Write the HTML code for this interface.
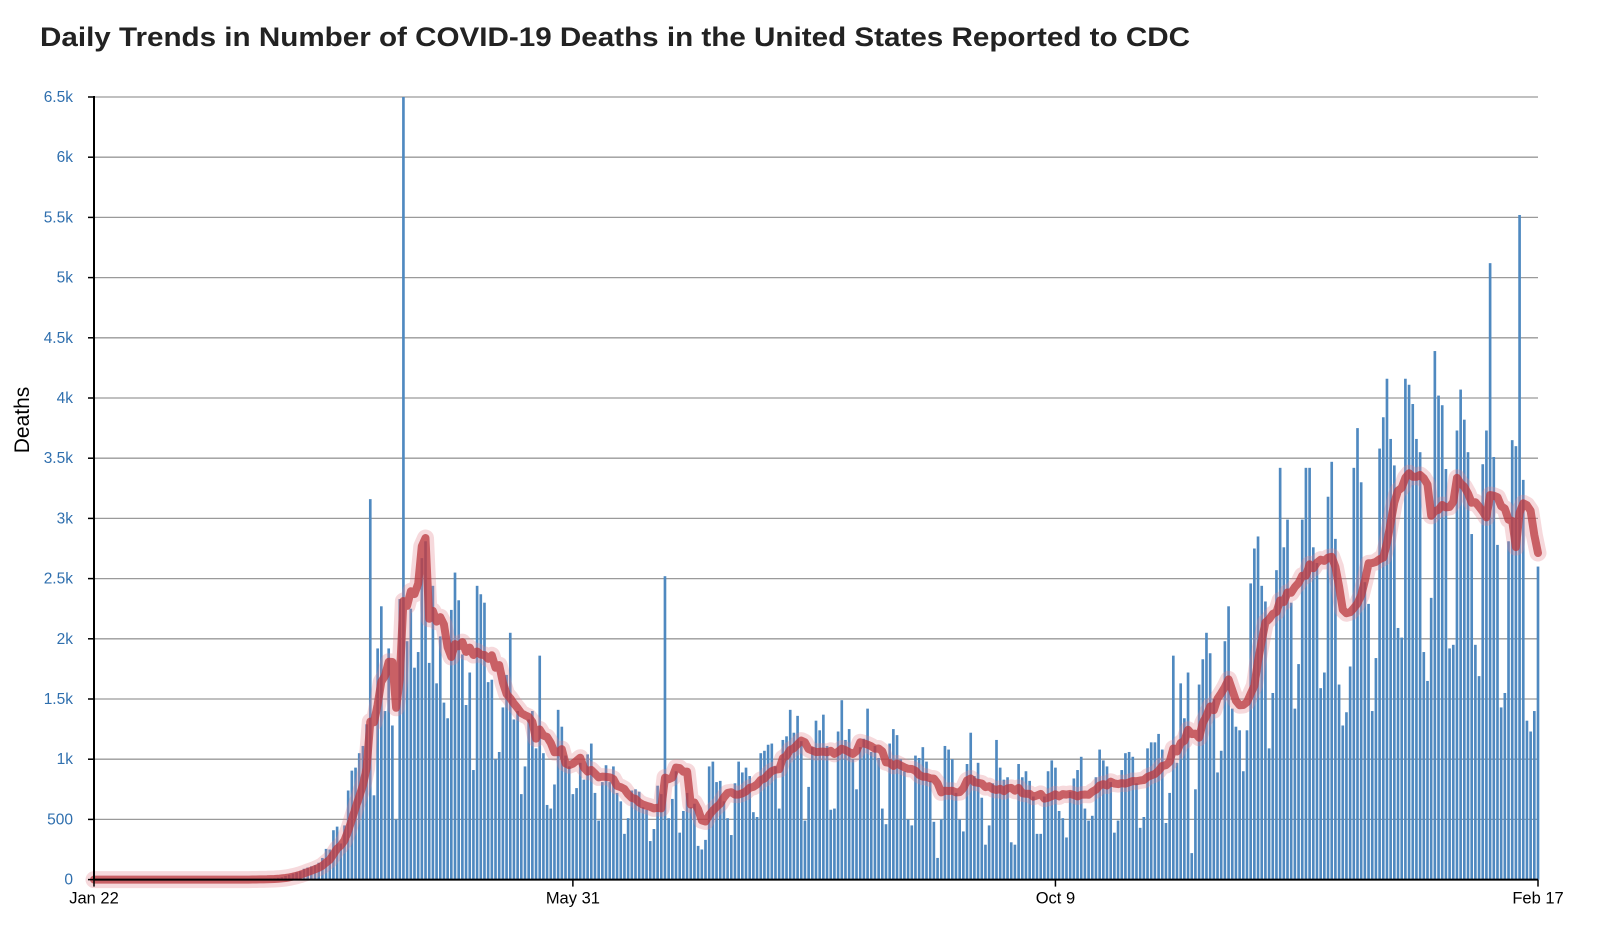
<!DOCTYPE html>
<html>
<head>
<meta charset="utf-8">
<style>
  html,body{margin:0;padding:0;background:#fff;}
  body{width:1600px;height:949px;overflow:hidden;font-family:"Liberation Sans",sans-serif;}
  svg{display:block;}
</style>
</head>
<body>
<svg id="chart" width="1600" height="949" viewBox="0 0 1600 949" xmlns="http://www.w3.org/2000/svg">
  <text x="40" y="46" font-family="Liberation Sans, sans-serif" font-weight="bold" font-size="27" fill="#222" textLength="1150" lengthAdjust="spacingAndGlyphs">Daily Trends in Number of COVID-19 Deaths in the United States Reported to CDC</text>
  <g id="grid"></g>
  <g id="bars"></g>
  <g id="line"></g>
  <g id="axes"></g>
  <text transform="translate(29,420) rotate(-90)" text-anchor="middle" font-family="Liberation Sans, sans-serif" font-size="21" fill="#000">Deaths</text>
</svg>
<script>
const pre = [0,0,0,0,0,0,0,0,0,0,0,0,0,0,0,0,0,0,0,0,0,0,0,0,0,0,0,0,0,0,0,0,0,0,0,0,0,0,0,0,
  0,1,1,2,2,3,5,6,8,10,15,20,30,40,50,60,70,90,100,110,120];
const spring = [140,180,255,250,410,440,300,450,740,905,930,1050,1110,1290,3160,700,1920,2270,1400,1920,1280,500,2330,6500,1980,2250,1760,1890,2670,2810,1800,2440,1630,2020,1470,1340,2240,2550,2320,1870,1450,1720,910,2440];
const lateSpring = [2370,2300,1640,1660,1000,1060,1430,1700,2050,1330,1400,710,940,1330,1400,1090,1860,1050,620,590,
  790,1410,1270,1030,940,710,760,970,830,1040,1130,720,490,810,950,810,940,720,650,380,
  510,740,750,730,600,580,320,420,780,710,2520,510,670,900,390,570,720,600,630,280,
  250,330,940,980,810,820,650,510,370];
const summer = [800,980,890,930,860,560,520,1050,1070,1120,1130,940,590,1160,1190,1410,1220,1360,1150,490,
  770,1100,1320,1240,1370,1110,580,590,1230,1490,1160,1250,1000,750,1100,1170,1420,1060,1110,1010,
  590,460,1130,1250,1200,1000,900,500,450,1030,1010,1100,980,820,480,180,500,1110,1080,1000,720,500,400];
const fall = [960,1220,860,970,680,290,450,800,1160,930,830,850,310,290,960,850,900,820,690,380,
  380,690,900,990,930,570,510,350,730,840,910,1020,590,490,530,850,1080,990,940,810,
  390,490,910,1050,1060,1020,800,430,520,1090,1140,1140,1210,1080,470,720,1860,970,1630,1340,
  1720,220,750,1620,1830,2050,1880,1500,890];
const lateFall = [1070,1980,2270,1420,1270,1240,900,1240,2460,2750,2850,2440,2310,1090,1550,2570,3420,2760,2990,2300,
  1420,1790,2990,3420,3420,2760,2630,1590,1720,3180,3470,2830,1620,1280,1390,1770,3420,3750,3300];
const winter = [2470,2290,1400,1840,3580,3840,4160,3660,3440,2090,2010,4160,4110,3950,3660,3550,1890,1650,2340];
const lateWinter = [4390,4020,3940,3410,1920,1950,3730,4070,3820,3550,2870,1950,1690,3450,3730,5120,3510,2780,1430,1550,
  2810,3650,3600,5520,3320,1320,1230,1400,2600];
const deaths = pre.concat(spring, lateSpring, summer, fall, lateFall, winter, lateWinter);
const yTicks = [0,500,1000,1500,2000,2500,3000,3500,4000,4500,5000,5500,6000,6500];
const yTickLabels = ["0","500","1k","1.5k","2k","2.5k","3k","3.5k","4k","4.5k","5k","5.5k","6k","6.5k"];
const xTickIdx = [0,130,261,392];
const xTickLabels = ["Jan 22","May 31","Oct 9","Feb 17"];

const NS = "http://www.w3.org/2000/svg";
const X0 = 94, X1 = 1538, Y0 = 879.6, YT = 97, YMAX = 6500, NDAYS = 392;
function xs(i){ return X0 + (X1 - X0) * i / NDAYS; }
function ys(v){ return Y0 - (Y0 - YT) * v / YMAX; }
function mk(tag, attrs, parent){
  const e = document.createElementNS(NS, tag);
  for (const k in attrs) e.setAttribute(k, attrs[k]);
  parent.appendChild(e);
  return e;
}
const grid = document.getElementById('grid');
const axes = document.getElementById('axes');
yTicks.forEach((v, k) => {
  if (v > 0) {
    const g = mk('line', {x1: X0, x2: X1, y1: ys(v), y2: ys(v), stroke: '#9a9a9a', 'stroke-width': 1.3}, grid);
    
    
  }
  const t = mk('line', {x1: X0 - 6, x2: X0, y1: ys(v), y2: ys(v), stroke: '#000', 'stroke-width': 1.5}, axes);
  
  
  const lb = mk('text', {x: X0 - 21, y: ys(v) + 5, 'text-anchor': 'end', 'font-size': 15.5, fill: '#2f6fae', 'font-family': 'Liberation Sans, sans-serif'}, axes);
  lb.textContent = yTickLabels[k];
  
  
});
const barsG = document.getElementById('bars');
const bw = (X1 - X0) / NDAYS * 0.72;
deaths.forEach((v, i) => {
  if (v <= 0) return;
  const r = mk('rect', {x: xs(i) - bw / 2, y: ys(v), width: bw, height: Y0 - ys(v), fill: '#4f89c0'}, barsG);
  
  
});
const ma = deaths.map((v, i) => {
  let s = 0, n = 0;
  for (let j = Math.max(0, i - 6); j <= i; j++) { s += deaths[j]; n++; }
  return s / n;
});
const pts = ma.map((v, i) => xs(i).toFixed(1) + ',' + ys(v).toFixed(1)).join(' ');
const lineG = document.getElementById('line');
const halo = mk('polyline', {points: pts, fill: 'none', stroke: 'rgba(225,130,140,0.3)', 'stroke-width': 17, 'stroke-linejoin': 'round', 'stroke-linecap': 'round'}, lineG);


const ln = mk('polyline', {points: pts, fill: 'none', stroke: 'rgba(185,55,62,0.75)', 'stroke-width': 8, 'stroke-linejoin': 'round', 'stroke-linecap': 'round'}, lineG);


const ya = mk('line', {x1: X0, x2: X0, y1: YT - 1, y2: Y0, stroke: '#000', 'stroke-width': 2}, axes);


const xa = mk('line', {x1: X0, x2: X1, y1: Y0, y2: Y0, stroke: '#000', 'stroke-width': 2}, axes);


xTickIdx.forEach((d, k) => {
  const t = mk('line', {x1: xs(d), x2: xs(d), y1: Y0, y2: Y0 + 7, stroke: '#000', 'stroke-width': 1.5}, axes);
  
  
  const lb = mk('text', {x: xs(d), y: Y0 + 24, 'text-anchor': 'middle', 'font-size': 16.5, fill: '#000', 'font-family': 'Liberation Sans, sans-serif'}, axes);
  lb.textContent = xTickLabels[k];
  
  
});
</script>
</body>
</html>
